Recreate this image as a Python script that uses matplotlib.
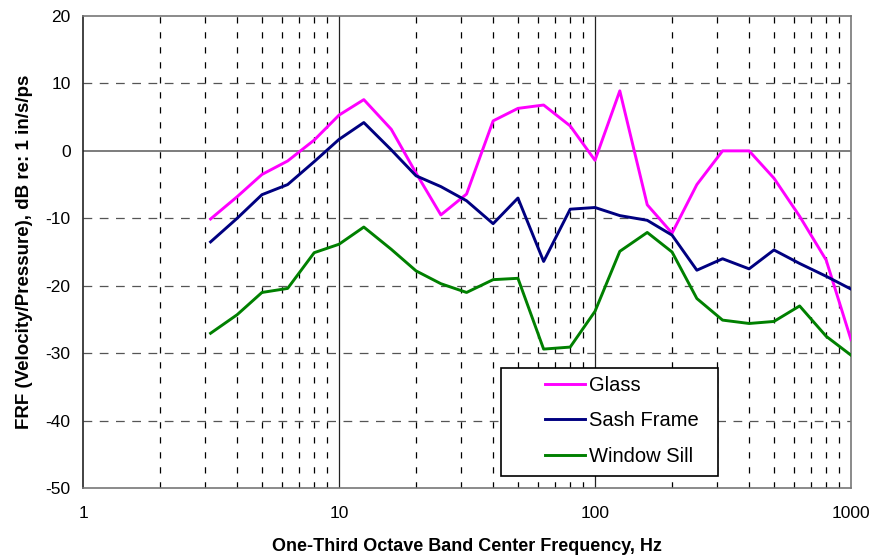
import matplotlib
matplotlib.use("Agg")
import matplotlib.pyplot as plt
from matplotlib.ticker import FixedLocator, NullFormatter, FixedFormatter
from matplotlib.patches import Rectangle

plt.rcParams['font.family'] = ['Liberation Sans', 'DejaVu Sans']
plt.rcParams['axes.unicode_minus'] = False

freqs = [3.15, 4, 5, 6.3, 8, 10, 12.5, 16, 20, 25, 31.5, 40, 50, 63, 80,
         100, 125, 160, 200, 250, 315, 400, 500, 630, 800, 1000]
glass = [-10.1, -6.8, -3.5, -1.5, 1.6, 5.3, 7.6, 3.2, -3.3, -9.5, -6.4, 4.45,
         6.3, 6.8, 3.7, -1.4, 8.9, -8.0, -12.2, -5.0, 0.0, 0.0, -4.05, -9.7,
         -16.2, -28.0]
sash = [-13.5, -10.0, -6.5, -5.0, -1.6, 1.7, 4.2, 0.15, -3.7, -5.3, -7.4,
        -10.8, -7.0, -16.4, -8.65, -8.4, -9.6, -10.3, -12.5, -17.7, -16.0,
        -17.5, -14.7, -16.7, -18.6, -20.5]
sill = [-27.05, -24.3, -21.0, -20.4, -15.1, -13.85, -11.3, -14.6, -17.8,
        -19.7, -21.0, -19.1, -18.9, -29.4, -29.1, -23.8, -14.9, -12.1, -15.0,
        -21.9, -25.1, -25.6, -25.3, -23.0, -27.5, -30.3]
series_names = ["Glass", "Sash Frame", "Window Sill"]
series_colors = ["#FF00FF", "#000080", "#008000"]

x_major = [1, 10, 100, 1000]
x_minor = [m * d for d in (1, 10, 100) for m in range(2, 10)]
y_ticks = [-50, -40, -30, -20, -10, 0, 10, 20]

fig = plt.figure(figsize=(8.72, 5.56), dpi=100)
ax = fig.add_axes([0.0952, 0.1223, 0.8807, 0.8489])
ax.set_xscale('log')
ax.set_xlim(1, 1000)
ax.set_ylim(-50, 20)

# grid
for xv in x_minor:
    ax.axvline(xv, color='black', lw=0.9, dashes=(5, 7), zorder=1)
for xv in x_major[1:3]:
    ax.axvline(xv, color='#222222', lw=0.9, zorder=1)
for yv in y_ticks[1:-1]:
    if yv == 0:
        ax.axhline(yv, color='#666666', lw=1.2, zorder=1)
    else:
        ax.axhline(yv, color='#555555', lw=0.9, dashes=(7, 6), zorder=1)

for vals, name, col in zip([glass, sash, sill], series_names, series_colors):
    ax.plot(freqs, vals, color=col, lw=2.1, label=name, zorder=3)

ax.xaxis.set_major_locator(FixedLocator(x_major))
ax.xaxis.set_major_formatter(FixedFormatter([str(v) for v in x_major]))
ax.xaxis.set_minor_locator(FixedLocator(x_minor))
ax.xaxis.set_minor_formatter(NullFormatter())
ax.set_yticks(y_ticks)
ax.tick_params(axis='both', which='major', labelsize=12.5, length=0)
ax.tick_params(axis='y', pad=9)
ax.tick_params(axis='x', pad=13)
ax.tick_params(axis='x', which='minor', length=0)

for s in ['left']:
    ax.spines[s].set_color('#222222')
for s in ['top', 'right', 'bottom']:
    ax.spines[s].set_color('#777777')
for s in ax.spines.values():
    s.set_linewidth(1.2)

ax.set_xlabel("One-Third Octave Band Center Frequency, Hz", fontsize=13,
              fontweight='bold', labelpad=12)
ax.set_ylabel("FRF (Velocity/Pressure), dB re: 1 in/s/ps", fontsize=13.5,
              fontweight='bold', labelpad=9)

# legend frame
ax.add_patch(Rectangle((0.544, 0.0254), 0.2826, 0.229, transform=ax.transAxes,
                       facecolor='white', edgecolor='black', lw=1.2, zorder=4))
leg = ax.legend(loc='center left', bbox_to_anchor=(0.6016, 0.142),
                fontsize=14.5, frameon=False, handlelength=2.0,
                borderpad=0, borderaxespad=0, labelspacing=0.82,
                handletextpad=0.2)
leg.set_zorder(5)

fig.savefig("out.png", dpi=100)
